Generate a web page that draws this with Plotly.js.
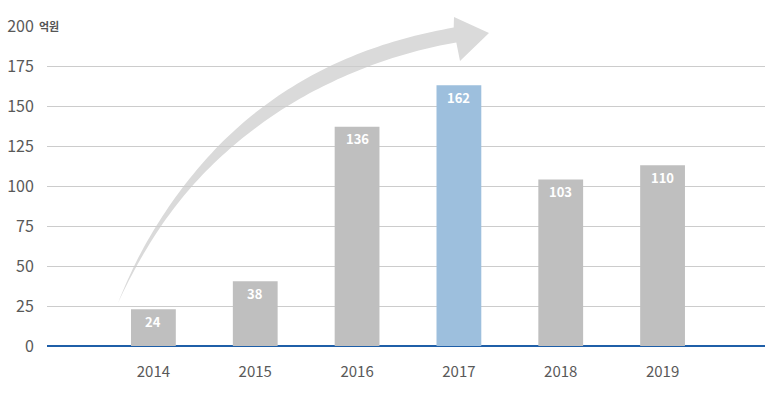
<!DOCTYPE html>
<html>
<head>
<meta charset="utf-8">
<script src="https://cdn.plot.ly/plotly-3.0.1.min.js"></script>
<style>html,body{margin:0;padding:0;background:#fff;}#chart{width:778px;height:395px;}</style>
</head>
<body>
<div id="chart"></div>
<script>
// Data
const years = ['2014', '2015', '2016', '2017', '2018', '2019'];
const barHeights = [23, 40.5, 137, 163, 104, 113];   // heights as drawn
const barLabels = ['24', '38', '136', '162', '103', '110']; // printed values
const barColors = ['#bfbfbf', '#bfbfbf', '#bfbfbf', '#9dbfdd', '#bfbfbf', '#bfbfbf'];
const yTicks = [0, 25, 50, 75, 100, 125, 150, 175, 200];
const unitLabel = '억원';

// Layout geometry
const W = 778, H = 395;
const M = {l: 47, r: 13, t: 26, b: 49};
const PW = W - M.l - M.r, PH = H - M.t - M.b;
const px = X => (X - M.l) / PW;
const py = Y => (H - M.b - Y) / PH;

// Decorative curved arrow: cubic centreline (pixels) with growing thickness
const C0 = [118, 303], C1 = [184.3, 146.6], C2 = [307, 61], C3 = [455, 35];
const thickT = [0, 0.1, 0.2, 0.3, 0.4, 0.5, 0.6, 0.7, 0.8, 0.9, 1.0];
const thickV = [0, 2.7, 4.5, 6.8, 9.8, 12.3, 14, 15.2, 15.5, 15.3, 15];
function bez(t) {
  const u = 1 - t;
  const a = u*u*u, b = 3*u*u*t, c = 3*u*t*t, d = t*t*t;
  return [a*C0[0]+b*C1[0]+c*C2[0]+d*C3[0], a*C0[1]+b*C1[1]+c*C2[1]+d*C3[1]];
}
function dbez(t) {
  const u = 1 - t;
  const a = 3*u*u, b = 6*u*t, c = 3*t*t;
  return [a*(C1[0]-C0[0])+b*(C2[0]-C1[0])+c*(C3[0]-C2[0]), a*(C1[1]-C0[1])+b*(C2[1]-C1[1])+c*(C3[1]-C2[1])];
}
function thick(t) {
  for (let i = 0; i < thickT.length - 1; i++) {
    if (t <= thickT[i+1]) {
      const f = (t - thickT[i]) / (thickT[i+1] - thickT[i]);
      return thickV[i] + f * (thickV[i+1] - thickV[i]);
    }
  }
  return thickV[thickV.length - 1];
}
const N = 80, up = [], lo = [];
for (let i = 0; i <= N; i++) {
  const t = i / N, p = bez(t), d = dbez(t);
  const len = Math.hypot(d[0], d[1]);
  const n = [d[1] / len, -d[0] / len]; // points up-left
  const h = thick(t) / 2;
  up.push([p[0] + n[0]*h, p[1] + n[1]*h]);
  lo.push([p[0] - n[0]*h, p[1] - n[1]*h]);
}
const head = [[454, 17], [489, 33], [460, 61]];
const outline = up.concat(head, lo.slice().reverse());
let path = outline.map((p, i) => (i ? 'L ' : 'M ') + px(p[0]) + ',' + py(p[1])).join(' ') + ' Z';

const trace = {
  type: 'bar',
  x: years,
  y: barHeights,
  width: 0.44,
  marker: {color: barColors, line: {width: 0}},
  hoverinfo: 'skip'
};

const annotations = years.map((yr, i) => ({
  x: i, y: barHeights[i], xref: 'x', yref: 'y',
  text: barLabels[i], showarrow: false, yanchor: 'middle', yshift: -12,
  font: {family: 'Noto Sans CJK KR, Noto Sans, sans-serif', size: 13, color: '#ffffff', weight: 700}
}));
annotations.push({
  xref: 'paper', yref: 'paper', x: px(38), y: 1, xanchor: 'left', yanchor: 'middle',
  text: unitLabel, showarrow: false, bgcolor: '#ffffff', width: 33, align: 'left', borderpad: 0,
  font: {family: 'Noto Sans CJK KR, sans-serif', size: 11, color: '#555555', weight: 700}
});

const layout = {
  width: W, height: H,
  margin: M,
  paper_bgcolor: '#ffffff',
  plot_bgcolor: 'rgba(0,0,0,0)',
  showlegend: false,
  font: {family: 'Noto Sans CJK KR, Noto Sans, sans-serif', color: '#595959', size: 14},
  xaxis: {
    type: 'category',
    range: [-1.045, 6.006],
    showgrid: false, zeroline: false, showline: false,
    ticks: 'outside', ticklen: 12, tickcolor: 'rgba(0,0,0,0)',
    tickfont: {size: 15, color: '#595959'},
    fixedrange: true
  },
  yaxis: {
    range: [0, 200],
    tickvals: yTicks,
    ticktext: yTicks.map(String),
    showgrid: true, gridcolor: '#cccccc', gridwidth: 1,
    zeroline: true, zerolinecolor: '#1f5fa8', zerolinewidth: 2,
    showline: false,
    ticks: 'outside', ticklen: 9, tickcolor: 'rgba(0,0,0,0)',
    tickfont: {size: 16, color: '#595959'},
    fixedrange: true
  },
  shapes: [{
    type: 'path', xref: 'paper', yref: 'paper', layer: 'below',
    path: path, fillcolor: '#dadada', line: {width: 0}
  }],
  annotations: annotations
};

Plotly.newPlot('chart', [trace], layout, {displayModeBar: false, staticPlot: true});
</script>
</body>
</html>
